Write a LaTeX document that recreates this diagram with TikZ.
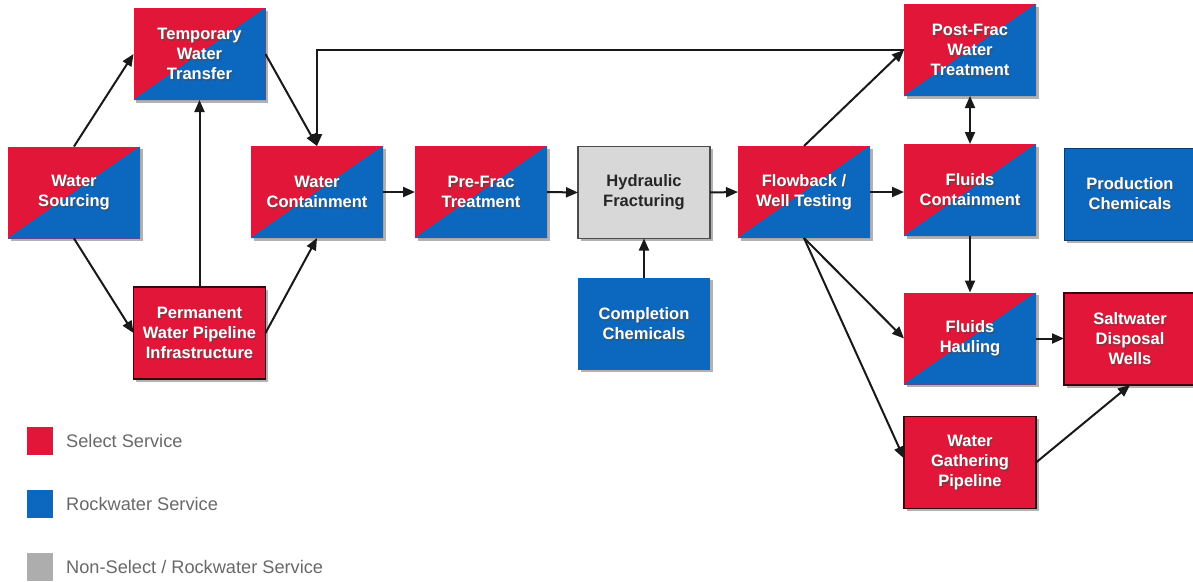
\documentclass[tikz,border=0pt]{standalone}
\usepackage{fontspec}
\setmainfont{Liberation Sans}
\usetikzlibrary{arrows.meta,shadows}
\definecolor{cred}{RGB}{226,22,56}
\definecolor{cblue}{RGB}{12,104,190}
\definecolor{cgray}{RGB}{216,216,216}
\definecolor{legtxt}{RGB}{105,105,105}
\tikzset{
  box/.style={minimum width=132pt, minimum height=92pt, inner sep=0pt, outer sep=0pt,
    drop shadow={shadow xshift=2.5pt, shadow yshift=-2.5pt, opacity=0.3, fill=black}},
  splitbox/.style={box, fill=cred, path picture={\fill[cblue] (path picture bounding box.south west) -- (path picture bounding box.north east) -- (path picture bounding box.south east) -- cycle;}},
  redbox/.style={box, fill=cred, draw=black!75!cred, line width=1.5pt},
  bluebox/.style={box, fill=cblue},
  blueedge/.style={box, fill=cblue, draw=black!40!cblue, line width=1pt},
  graybox/.style={box, fill=cgray, draw=black!70, line width=1.5pt},
  boxtxt/.style={text=white, font=\fontsize{16.5}{20}\selectfont\bfseries, align=center, inner sep=0pt},
  darktxt/.style={text=black!85, font=\fontsize{16.5}{20}\selectfont\bfseries, align=center, inner sep=0pt},
  txtshadow/.style={text=black!70, opacity=0.6, font=\fontsize{16.5}{20}\selectfont\bfseries, align=center, inner sep=0pt},
  tipa/.tip={Triangle[length=12pt,width=10pt]},
  conn/.style={draw=black!90, line width=2pt, -tipa},
  dconn/.style={draw=black!90, line width=2pt, tipa-tipa},
  legsq/.style={minimum width=26pt, minimum height=28pt, inner sep=0pt},
  legtext/.style={anchor=west, text=legtxt, font=\fontsize{18.2}{20}\selectfont, inner sep=0pt},
}
\newcommand\mybox[4]{%
  \node[#3] (#1) at (#2) {};
  \node[txtshadow] (#1-s) at ([xshift=1.4pt,yshift=-1.7pt]#1.center) {#4};
  \node[boxtxt] (#1-t) at (#1.center) {#4};
}
\begin{document}
\begin{tikzpicture}[x=1pt,y=-1pt]
\useasboundingbox (0,0) rectangle (1193,581);
\fill[white] (0,0) rectangle (1193,581);

% boxes
\mybox{TWT}{199.5,54}{splitbox}{Temporary\\Water\\Transfer}
\mybox{WS}{74,192.5}{splitbox}{Water\\Sourcing}
\mybox{PWP}{199.5,333}{redbox}{Permanent\\Water Pipeline\\Infrastructure}
\mybox{WC}{317,192}{splitbox}{Water\\Containment}
\mybox{PF}{481,192}{splitbox}{Pre-Frac\\Treatment}
\node[graybox] (HF) at (644,192.5) {};
\node[darktxt] (HF-t) at (HF.center) {Hydraulic\\Fracturing};
\mybox{CC}{644,323.5}{bluebox}{Completion\\Chemicals}
\mybox{FB}{804,192}{splitbox}{Flowback /\\Well Testing}
\mybox{PFW}{970,50}{splitbox}{Post-Frac\\Water\\Treatment}
\mybox{FC}{970,190}{splitbox}{Fluids\\Containment}
\mybox{PC}{1130,194}{blueedge}{Production\\Chemicals}
\mybox{FH}{970,338.5}{splitbox}{Fluids\\Hauling}
\mybox{SW}{1130,339}{redbox}{Saltwater\\Disposal\\Wells}
\mybox{WG}{970,462.5}{redbox}{Water\\Gathering\\Pipeline}

% connectors
\draw[conn] (WS.north) -- (TWT.west);
\draw[conn] (WS.south) -- (PWP.west);
\draw[conn] (PWP.north) -- (TWT.south);
\draw[conn] (TWT.east) -- (WC.north);
\draw[conn] (PWP.east) -- (WC.south);
\draw[conn] (PFW.west) -- (WC.north |- PFW.west) -- (WC.north);
\draw[conn] (FB.north) -- (PFW.west);
\draw[conn] (WC.east) -- (PF.west);
\draw[conn] (PF.east) -- (HF.west);
\draw[conn] (HF.east) -- (FB.west);
\draw[conn] (CC.north) -- (HF.south);
\draw[conn] (FB.east) -- (FB.east -| FC.west);
\draw[dconn] (PFW.south) -- (FC.north);
\draw[conn] (FC.south) -- (FH.north);
\draw[conn] (FB.south) -- (FH.west);
\draw[conn] (FB.south) -- ([yshift=4pt]WG.west);
\draw[conn] (FH.east) -- (FH.east -| SW.west);
\draw[conn] (WG.east) -- (SW.south);

% legend
\node[legsq, fill=cred] (L1) at (40,440.5) {};
\node[legtext] (L1t) at (66,441) {Select Service};
\node[legsq, fill=cblue] (L2) at (40,503.5) {};
\node[legtext] (L2t) at (66,504) {Rockwater Service};
\node[legsq, fill=black!32] (L3) at (40,567) {};
\node[legtext] (L3t) at (66,567) {Non-Select / Rockwater Service};
\end{tikzpicture}
\end{document}
